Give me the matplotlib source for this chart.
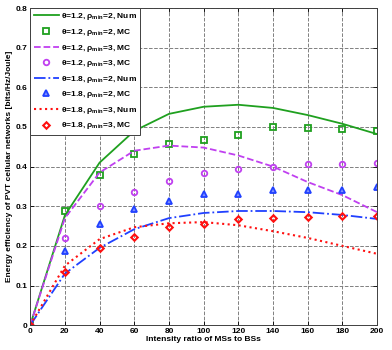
import matplotlib.pyplot as plt
import numpy as np

# intensity ratio of MSs to BSs
ratio = [0, 20, 40, 60, 80, 100, 120, 140, 160, 180, 200]

# theta=1.2, rho_min=2
ee_12_2_num = [0, 0.277, 0.41, 0.49, 0.533, 0.551, 0.556, 0.548, 0.53, 0.508, 0.482]
ee_12_2_mc = [0, 0.288, 0.379, 0.431, 0.457, 0.468, 0.48, 0.50, 0.498, 0.495, 0.49]
# theta=1.2, rho_min=3
ee_12_3_num = [0, 0.27, 0.385, 0.44, 0.453, 0.448, 0.428, 0.40, 0.361, 0.328, 0.285]
ee_12_3_mc = [0, 0.22, 0.30, 0.336, 0.363, 0.384, 0.394, 0.40, 0.406, 0.407, 0.41]
# theta=1.8, rho_min=2
ee_18_2_num = [0, 0.13, 0.195, 0.242, 0.27, 0.283, 0.288, 0.288, 0.285, 0.278, 0.268]
ee_18_2_mc = [0, 0.187, 0.255, 0.293, 0.313, 0.331, 0.33, 0.34, 0.34, 0.34, 0.348]
# theta=1.8, rho_min=3
ee_18_3_num = [0, 0.15, 0.217, 0.247, 0.257, 0.26, 0.252, 0.237, 0.22, 0.20, 0.18]
ee_18_3_mc = [0, 0.135, 0.195, 0.222, 0.247, 0.254, 0.267, 0.27, 0.274, 0.276, 0.275]

labels = [
    r'θ=1.2, ρ$_{\rm min}$=2, Num',
    r'θ=1.2, ρ$_{\rm min}$=2, MC',
    r'θ=1.2, ρ$_{\rm min}$=3, MC',
    r'θ=1.2, ρ$_{\rm min}$=3, MC',
    r'θ=1.8, ρ$_{\rm min}$=2, Num',
    r'θ=1.8, ρ$_{\rm min}$=2, MC',
    r'θ=1.8, ρ$_{\rm min}$=3, Num',
    r'θ=1.8, ρ$_{\rm min}$=3, MC',
]

green = '#1fa01f'
magenta = '#c040f0'
blue = '#2040ff'
red = '#ff1010'

plt.rcParams['font.family'] = ['Liberation Sans', 'DejaVu Sans']
plt.rcParams['font.weight'] = 'bold'
plt.rcParams['mathtext.fontset'] = 'custom'
plt.rcParams['mathtext.rm'] = 'Liberation Sans'

fig = plt.figure(figsize=(3.92, 3.5), dpi=100)
ax = fig.add_axes([0.077, 0.071, 0.885, 0.906])

ax.plot(ratio, ee_12_2_num, '-', color=green, lw=1.3, label=labels[0])
ax.plot(ratio, ee_12_2_mc, 's', color=green, mfc='none', mew=1.3, ms=4.2, label=labels[1])
ax.plot(ratio, ee_12_3_num, '--', color=magenta, lw=1.3, label=labels[2])
ax.plot(ratio, ee_12_3_mc, 'o', color=magenta, mfc='none', mew=1.3, ms=4, label=labels[3])
ax.plot(ratio, ee_18_2_num, '-.', color=blue, lw=1.3, label=labels[4])
ax.plot(ratio, ee_18_2_mc, '^', color=blue, mfc='#8090ff', mew=1.3, ms=4.3, label=labels[5])
ax.plot(ratio, ee_18_3_num, ':', color=red, lw=1.5, label=labels[6])
ax.plot(ratio, ee_18_3_mc, 'D', color=red, mfc='none', mew=1.5, ms=3.3, label=labels[7])

ax.set_xlim(0, 200)
ax.set_ylim(0, 0.8)
ax.set_xticks(np.arange(0, 201, 20))
ax.set_yticks(np.arange(0, 0.81, 0.1))
ax.set_yticklabels(['0', '0.1', '0.2', '0.3', '0.4', '0.5', '0.6', '0.7', '0.8'])
ax.tick_params(direction='in', labelsize=6, length=3, width=0.6, pad=2, top=True, right=True)
ax.grid(True, linestyle='--', color='#808080', lw=0.7)
for s in ax.spines.values():
    s.set_linewidth(0.7)
    s.set_color('#404040')

ax.set_xlabel('Intensity ratio of MSs to BSs', fontsize=6, fontweight='bold', labelpad=1)
ax.set_ylabel('Energy efficiency of PVT cellular networks [bits/Hz/Joule]',
              fontsize=6, fontweight='bold', labelpad=2)

leg = ax.legend(loc='upper left', fontsize=6, frameon=True, fancybox=False,
                edgecolor='#404040', framealpha=1, borderaxespad=0,
                handlelength=3.0, labelspacing=0.55, borderpad=0.4, handletextpad=0.3)
leg.get_frame().set_linewidth(0.7)

fig.savefig('out.png', dpi=100)
